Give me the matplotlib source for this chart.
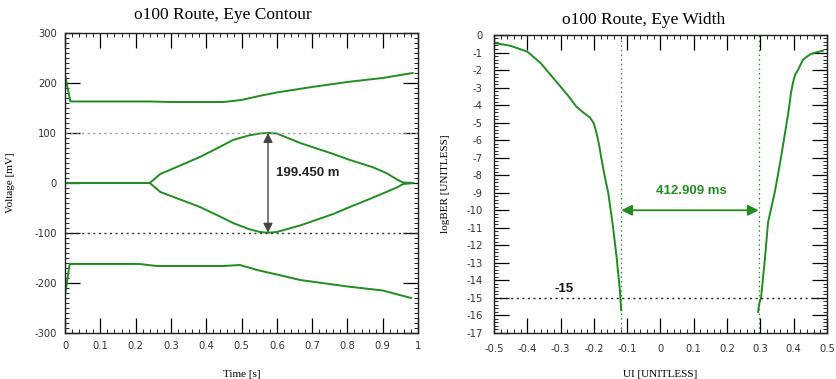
import matplotlib
matplotlib.use("Agg")
import matplotlib.pyplot as plt
from matplotlib.ticker import MultipleLocator, FuncFormatter

# ---- Eye contour (voltage vs time) ----
t_outer_top = [0.0, 0.015, 0.1, 0.24, 0.3, 0.45, 0.5, 0.55, 0.6, 0.7, 0.8, 0.9, 0.985]
v_outer_top = [216, 163, 163, 163, 162, 162, 166, 174, 181, 192, 202, 210, 220]

t_outer_bot = [0.0, 0.013, 0.1, 0.21, 0.26, 0.45, 0.495, 0.55, 0.6, 0.666, 0.8, 0.9, 0.98]
v_outer_bot = [-224, -162, -162, -162, -166, -166, -164, -175, -183, -194, -207, -215, -230]

t_eye = [0.0, 0.24, 0.27, 0.33, 0.382, 0.43, 0.476, 0.52, 0.552, 0.575, 0.6, 0.666, 0.76,
         0.807, 0.87, 0.91, 0.943, 0.958, 0.985]
v_eye_top = [0, 0, 18, 36, 52, 69, 86, 95, 99, 100, 99, 80, 58, 46, 32, 20, 6, 1, 0]
v_eye_bot = [0, 0, -18, -34, -48, -64, -80, -92, -98, -99.45, -98, -85, -62, -48, -30,
             -18, -8, -2, 0]

eye_top_level = 100.0
eye_bot_level = -99.45
eye_time = 0.575
eye_height_label = "199.450 m"

# ---- Bathtub (logBER vs UI) ----
ui_left = [-0.5, -0.45, -0.4, -0.36, -0.32, -0.28, -0.252, -0.23, -0.212, -0.2, -0.192,
           -0.184, -0.177, -0.167, -0.157, -0.144, -0.132, -0.122, -0.118]
ber_left = [-0.45, -0.62, -0.95, -1.6, -2.5, -3.4, -4.1, -4.45, -4.7, -5.05, -5.6,
            -6.3, -7.1, -8.1, -9.0, -10.74, -12.64, -14.55, -15.7]

ui_right = [0.293, 0.297, 0.302, 0.314, 0.323, 0.344, 0.36, 0.374, 0.385, 0.392, 0.398,
            0.405, 0.413, 0.428, 0.45, 0.47, 0.488]
ber_right = [-15.8, -15.3, -15.0, -12.7, -10.7, -8.9, -7.2, -5.6, -4.3, -3.3, -2.7,
             -2.25, -2.0, -1.4, -1.1, -0.98, -0.9]

ber_target = -15
ui_open_left = -0.118
eye_width_ui = 0.412909
ui_open_right = ui_open_left + eye_width_ui
eye_width_label = "412.909 ms"

GREEN = "#228b22"


def tick_fmt(v, pos):
    return "%g" % round(v, 6)


fig = plt.figure(figsize=(8.37, 3.79), dpi=100)
ax1 = fig.add_axes([0.0777, 0.1214, 0.4217, 0.7916])
ax2 = fig.add_axes([0.5902, 0.1214, 0.3978, 0.7863])


def style_axes(ax):
    ax.xaxis.set_major_formatter(FuncFormatter(tick_fmt))
    ax.yaxis.set_major_formatter(FuncFormatter(tick_fmt))
    ax.tick_params(which="both", direction="in", top=True, right=True,
                   labelsize=7.2, labelcolor="#333333", color="black")
    ax.tick_params(which="major", length=11, width=0.9, pad=6)
    ax.tick_params(which="minor", length=3, width=0.6)
    for lab in ax.get_xticklabels() + ax.get_yticklabels():
        lab.set_fontfamily("DejaVu Sans")
    for s in ax.spines.values():
        s.set_linewidth(1.0)
        s.set_color("#222222")


# Left panel
ax1.plot(t_outer_top, v_outer_top, color=GREEN, lw=1.4)
ax1.plot(t_outer_bot, v_outer_bot, color=GREEN, lw=1.4)
ax1.plot(t_eye, v_eye_top, color=GREEN, lw=1.4)
ax1.plot(t_eye, v_eye_bot, color=GREEN, lw=1.4)
ax1.axhline(eye_top_level, color="#999999", lw=1.0, ls=(0, (1.5, 2.5)))
ax1.axhline(eye_bot_level, color="#333333", lw=1.0, ls=(0, (1.5, 2.5)))
ax1.annotate("", xy=(eye_time, eye_top_level), xytext=(eye_time, eye_bot_level),
             arrowprops=dict(arrowstyle="<|-|>", color="#444444", lw=1.0,
                             mutation_scale=14, shrinkA=0, shrinkB=0))
ax1.text(0.598, 20, eye_height_label, fontsize=9.5, fontweight="bold",
         family="Liberation Sans", color="#222222", va="center", ha="left")
ax1.set_xlim(0, 1)
ax1.set_ylim(-300, 300)
ax1.xaxis.set_major_locator(MultipleLocator(0.1))
ax1.xaxis.set_minor_locator(MultipleLocator(0.02))
ax1.yaxis.set_major_locator(MultipleLocator(100))
ax1.yaxis.set_minor_locator(MultipleLocator(10))
style_axes(ax1)
ax1.set_xlabel("Time [s]", family="Liberation Serif", fontsize=8)
ax1.set_ylabel("Voltage [mV]", family="Liberation Serif", fontsize=8)
ax1.xaxis.set_label_coords(0.5, -0.123)
ax1.yaxis.set_label_coords(-0.142, 0.5)
ax1.text(0.448, 1.06, "o100 Route, Eye Contour", transform=ax1.transAxes,
         family="Liberation Serif", fontsize=12.5, ha="center", va="center")

# Right panel
ax2.plot(ui_left, ber_left, color=GREEN, lw=1.4)
ax2.plot(ui_right, ber_right, color=GREEN, lw=1.4)
ax2.axhline(ber_target, color="#222222", lw=1.0, ls=(0, (1.5, 2.5)))
ax2.axvline(ui_open_left, color=GREEN, lw=0.9, ls=(0, (1.2, 2.5)))
ax2.axvline(ui_open_right, color=GREEN, lw=0.9, ls=(0, (1.2, 2.5)))
ax2.annotate("", xy=(ui_open_left, -10), xytext=(ui_open_right, -10),
             arrowprops=dict(arrowstyle="<|-|>", color=GREEN, lw=1.3,
                             mutation_scale=16, shrinkA=0, shrinkB=0))
ax2.text(0.092, -8.9, eye_width_label, fontsize=9.5, fontweight="bold",
         family="Liberation Sans", color=GREEN, ha="center", va="center")
ax2.text(-0.29, -14.5, str(ber_target), fontsize=9.5, fontweight="bold",
         family="Liberation Sans", color="#111111", ha="center", va="center")
ax2.set_xlim(-0.5, 0.5)
ax2.set_ylim(-17, 0)
ax2.xaxis.set_major_locator(MultipleLocator(0.1))
ax2.xaxis.set_minor_locator(MultipleLocator(0.02))
ax2.yaxis.set_major_locator(MultipleLocator(1))
ax2.yaxis.set_minor_locator(MultipleLocator(0.2))
style_axes(ax2)
ax2.tick_params(which="major", pad=8)
ax2.set_xlabel("UI [UNITLESS]", family="Liberation Serif", fontsize=8)
ax2.set_ylabel("logBER [UNITLESS]", family="Liberation Serif", fontsize=8)
ax2.xaxis.set_label_coords(0.5, -0.124)
ax2.yaxis.set_label_coords(-0.132, 0.5)
ax2.text(0.45, 1.05, "o100 Route, Eye Width", transform=ax2.transAxes,
         family="Liberation Serif", fontsize=12.5, ha="center", va="center")

fig.savefig("out.png", dpi=100)
